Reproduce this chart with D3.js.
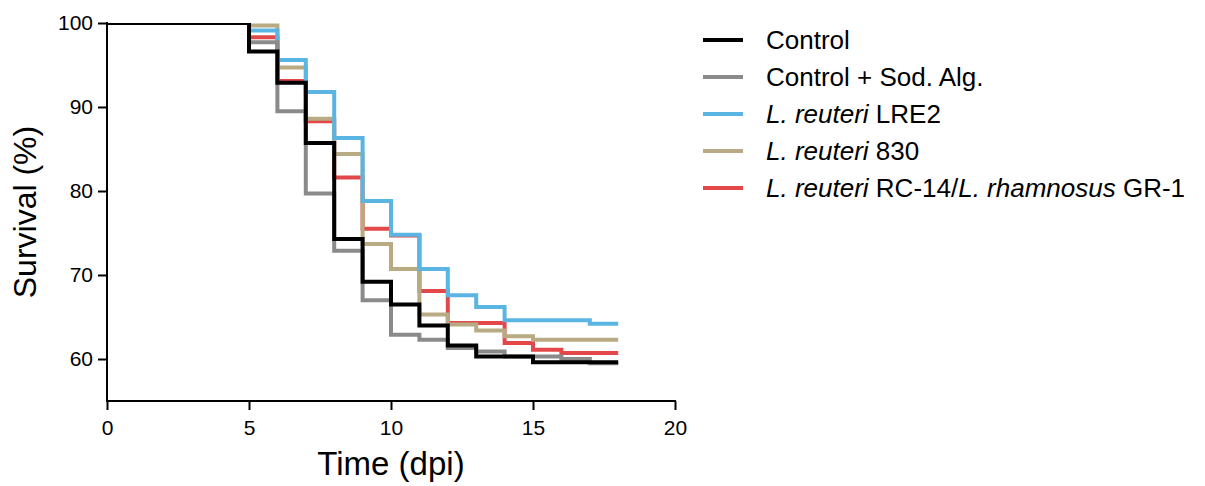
<!DOCTYPE html>
<html>
<head>
<meta charset="utf-8">
<script src="https://cdn.jsdelivr.net/npm/d3@7/dist/d3.min.js"></script>
<style>
  html, body { margin: 0; padding: 0; background: #fff; }
  svg { display: block; font-family: "Liberation Sans", Arial, sans-serif; }
</style>
</head>
<body>
<svg id="chart" width="1205" height="486"></svg>
<script>
// Kaplan–Meier survival steps: event times (dpi) and survival (%) per group
const controlTime   = [0, 5, 6, 7, 8, 9, 10, 11, 12, 13, 15, 18];
const controlSurv   = [100, 96.6, 92.9, 85.7, 74.3, 69.2, 66.5, 64.0, 61.6, 60.3, 59.6, 59.6];

const sodAlgTime    = [0, 5, 6, 7, 8, 9, 10, 11, 12, 13, 14, 16, 17, 18];
const sodAlgSurv    = [100, 97.7, 89.5, 79.7, 72.9, 67.0, 62.9, 62.3, 61.3, 60.9, 60.3, 60.0, 59.5, 59.5];

const lre2Time      = [0, 5, 6, 7, 8, 9, 10, 11, 12, 13, 14, 17, 18];
const lre2Surv      = [100, 99.1, 95.6, 91.8, 86.3, 78.8, 74.8, 70.7, 67.6, 66.2, 64.6, 64.2, 64.2];

const r830Time      = [0, 5, 6, 7, 8, 9, 10, 11, 12, 13, 14, 15, 18];
const r830Surv      = [100, 99.7, 94.7, 88.6, 84.4, 73.7, 70.7, 65.3, 64.1, 63.4, 62.7, 62.3, 62.3];

const rc14Time      = [0, 5, 6, 7, 8, 9, 10, 11, 12, 14, 15, 16, 18];
const rc14Surv      = [100, 98.3, 93.1, 88.3, 81.6, 75.5, 74.7, 68.1, 64.3, 61.9, 61.1, 60.7, 60.7];

const xTicks = [0, 5, 10, 15, 20];
const yTicks = [60, 70, 80, 90, 100];

// legend order (top to bottom)
const groups = [
  { key: "control", parts: [["Control", false]], color: "#000000", t: controlTime, s: controlSurv },
  { key: "sodalg",  parts: [["Control + Sod. Alg.", false]], color: "#8a8a8a", t: sodAlgTime, s: sodAlgSurv },
  { key: "lre2",    parts: [["L. reuteri", true], [" LRE2", false]], color: "#5bb5e2", t: lre2Time, s: lre2Surv },
  { key: "r830",    parts: [["L. reuteri", true], [" 830", false]], color: "#b8ab83", t: r830Time, s: r830Surv },
  { key: "rc14",    parts: [["L. reuteri", true], [" RC-14/", false], ["L. rhamnosus", true], [" GR-1", false]], color: "#e2484a", t: rc14Time, s: rc14Surv }
];
// painting order: later groups sit on top
const drawOrder = ["rc14", "r830", "lre2", "sodalg", "control"];

const svg = d3.select("#chart");
const x = d3.scaleLinear().domain([0, 20]).range([107, 675]);
const y = d3.scaleLinear().domain([55, 100]).range([401, 23]);

svg.append("defs").append("clipPath").attr("id", "plotClip")
  .append("rect")
  .attr("x", x(0)).attr("y", y(100))
  .attr("width", x(20) - x(0) + 4).attr("height", y(55) - y(100));

const line = d3.line()
  .x(d => x(d[0]))
  .y(d => y(d[1]))
  .curve(d3.curveStepAfter);

const plot = svg.append("g").attr("clip-path", "url(#plotClip)");
drawOrder.forEach(k => {
  const g = groups.find(d => d.key === k);
  plot.append("path")
    .datum(g.t.map((t, i) => [t, g.s[i]]))
    .attr("fill", "none")
    .attr("stroke", g.color)
    .attr("stroke-width", 4)
    .attr("stroke-linejoin", "miter")
    .attr("d", line);
});

// axes
const yAxis = svg.append("g")
  .attr("transform", `translate(${x(0)},0)`)
  .call(d3.axisLeft(y).tickValues(yTicks).tickSize(9).tickSizeOuter(0).tickPadding(5));
const xAxis = svg.append("g")
  .attr("transform", `translate(0,${y(55)})`)
  .call(d3.axisBottom(x).tickValues(xTicks).tickSize(9).tickSizeOuter(0).tickPadding(10));

[xAxis, yAxis].forEach(a => {
  a.selectAll("path.domain").attr("stroke", "#000").attr("stroke-width", 2);
  a.selectAll(".tick line").attr("stroke", "#000").attr("stroke-width", 2);
  a.selectAll(".tick text")
    .attr("fill", "#000")
    .style("font-size", "21px")
    .style("font-family", "'Liberation Sans', Arial, sans-serif");
});
yAxis.select("path.domain").attr("d", `M0,${y(100) - 1}V${y(55) + 1}`);
xAxis.select("path.domain").attr("d", `M${x(0) - 1},0H${x(20) + 1}`);

// axis titles
svg.append("text")
  .attr("x", (x(0) + x(20)) / 2)
  .attr("y", 475)
  .attr("text-anchor", "middle")
  .style("font-size", "33px")
  .text("Time (dpi)");

svg.append("text")
  .attr("transform", `translate(36,${(y(100) + y(55)) / 2}) rotate(-90)`)
  .attr("text-anchor", "middle")
  .style("font-size", "32px")
  .text("Survival (%)");

// legend
const legend = svg.append("g");
groups.forEach((g, i) => {
  const ly = 40 + i * 37;
  legend.append("line")
    .attr("x1", 703).attr("x2", 743)
    .attr("y1", ly).attr("y2", ly)
    .attr("stroke", g.color).attr("stroke-width", 4);
  const txt = legend.append("text")
    .attr("x", 766).attr("y", ly + 9)
    .style("font-size", "26px")
    .attr("fill", "#000");
  g.parts.forEach(([s, it]) => {
    txt.append("tspan").style("font-style", it ? "italic" : "normal").text(s);
  });
});
</script>
</body>
</html>
